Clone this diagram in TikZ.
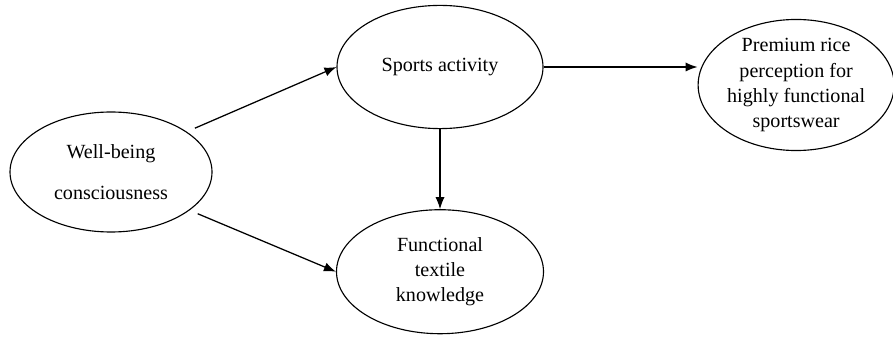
\documentclass[tikz,border=0pt]{standalone}
\usepackage{fontspec}
\setmainfont{Liberation Serif}
\usepackage{tikz}
\usetikzlibrary{shapes.geometric, positioning, arrows.meta}

\tikzset{
    bien/.style={ellipse, draw, line width=0.8pt, inner sep=0pt, align=center,
        font=\fontsize{14.3}{17.8}\selectfont},
    muiten/.style={->, line width=0.9pt}
}

\begin{document}
\begin{tikzpicture}[>={Latex[length=3mm, width=2.3mm]}]
    \useasboundingbox (0,0) rectangle (22.325,8.4);

    % các biến
    \node[bien, minimum width=5.05cm, minimum height=3.0cm] (wb) at (2.775,4.1)
        {Well-being\\[0.4cm]consciousness};
    \node[bien, minimum width=5.15cm, minimum height=3.08cm] (sa) at (11.0,6.725)
        {Sports activity};
    \node[bien, minimum width=5.175cm, minimum height=3.1cm, below=2.0cm of sa] (fc)
        {Functional\\textile\\knowledge};
    \node[bien, minimum width=4.9cm, minimum height=3.15cm, right=3.85cm of sa, yshift=-0.45cm] (pr)
        {Premium rice\\perception for\\highly functional\\sportswear};

    % các mũi tên
    \draw[muiten, shorten <=0.22cm] (wb.28) -- (sa.west);
    \draw[muiten, shorten <=0.22cm] (wb.-26) -- (fc.west);
    \draw[muiten] (sa.east) -- (sa.east -| pr.west);
    \draw[muiten] (sa.south) -- (fc.north);
\end{tikzpicture}
\end{document}
